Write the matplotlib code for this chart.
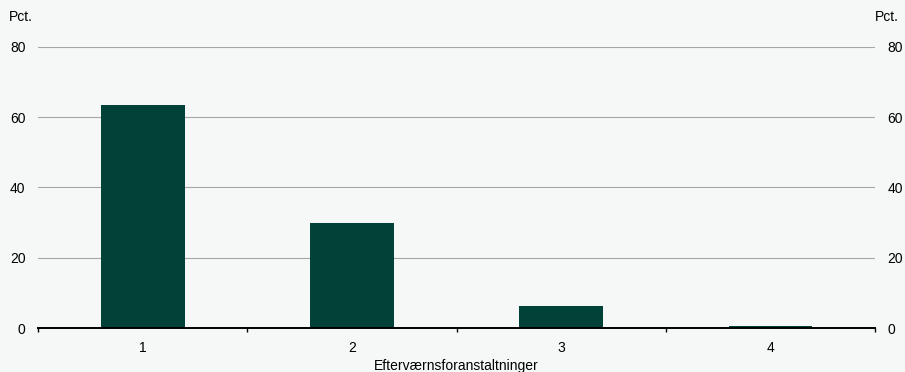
import numpy as np
import matplotlib.pyplot as plt

plt.rcParams['font.family'] = ['Liberation Sans', 'DejaVu Sans']

categories = ['1', '2', '3', '4']
values = [63.5, 29.9, 6.3, 0.5]
yticks = [0, 20, 40, 60, 80]

bg = '#f6f8f8'
fig = plt.figure(figsize=(9.05, 3.72), dpi=100, facecolor=bg)
ax = fig.add_axes([0.042, 0.118, 0.925, 0.756], facecolor=bg)

x = np.arange(len(categories))
ax.bar(x, values, width=0.4, color='#004237', zorder=3)
ax.set_xlim(-0.5, len(categories) - 0.5)
ax.set_ylim(0, 80)

for y in yticks[1:]:
    ax.axhline(y, color='#a6a6a6', lw=0.8, zorder=1)
ax.axhline(0, color='black', lw=1.4, zorder=4, clip_on=False)

for s in ax.spines.values():
    s.set_visible(False)

ax.set_yticks(yticks)
ax.tick_params(axis='y', length=0, labelsize=10, pad=9)
ax.tick_params(axis='y', labelright=True)
ax.set_xticks(x)
ax.set_xticklabels(categories)
ax.tick_params(axis='x', length=0, labelsize=10, pad=9)
# category boundary ticks
ax.set_xticks(np.arange(len(categories) + 1) - 0.5, minor=True)
ax.tick_params(axis='x', which='minor', length=3, width=1.0, color='black', direction='out')

ax.set_xlabel('Efterværnsforanstaltninger', fontsize=10, labelpad=3)

fig.text(0.01, 0.955, 'Pct.', fontsize=10, va='center')
fig.text(0.993, 0.955, 'Pct.', fontsize=10, va='center', ha='right')

fig.savefig('out.png', dpi=100, facecolor=bg)
